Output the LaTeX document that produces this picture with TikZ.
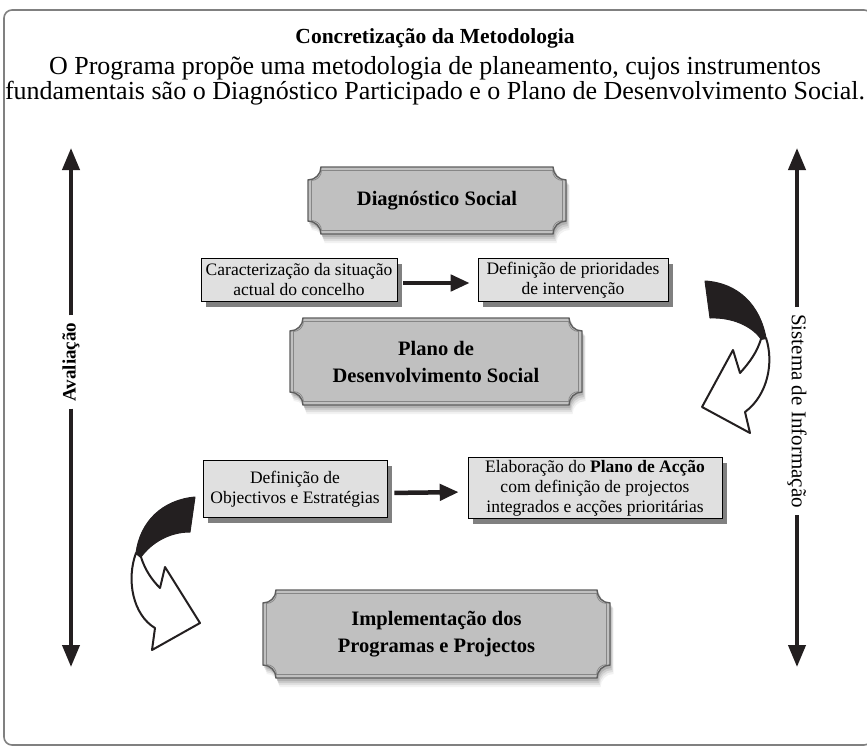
\documentclass[tikz,border=0pt]{standalone}
\usepackage{fontspec}
\setmainfont{Liberation Serif}
\usetikzlibrary{calc}
\usetikzlibrary{arrows.meta}
\usetikzlibrary{shadows}
\definecolor{plaquegray}{HTML}{C0C0C0}
\definecolor{plaqueedge}{HTML}{5E5E5E}
\definecolor{boxgray}{HTML}{E0E0E0}
\definecolor{shadegray}{HTML}{808080}
\definecolor{framegray}{HTML}{808080}
\definecolor{inkblack}{HTML}{231F20}
\tikzstyle{vline}=[inkblack,line width=4pt,-{Triangle[length=22pt,width=17pt]}]
\tikzstyle{flowarrow}=[inkblack,line width=4.5pt,-{Triangle[length=19pt,width=16pt]}]
\tikzstyle{stepbox}=[draw=black,line width=0.6pt,fill=boxgray,align=center,inner sep=2pt,font=\fontsize{17.5}{20}\selectfont,drop shadow={shadow xshift=5pt,shadow yshift=-5pt,fill=shadegray,opacity=1}]
\tikzstyle{plaquetext}=[align=center,font=\fontsize{20.5}{27}\selectfont\bfseries]
\tikzstyle{twistblack}=[fill=inkblack,draw=inkblack,line width=1pt,line join=round]
\tikzstyle{twistwhite}=[fill=white,draw=inkblack,line width=2pt,line join=round]
\newcommand{\plaquepath}[6][]{% Syntax: [options] {x1}{top}{x2}{bottom}{corner radius}
  \path[#1] ({#2+#6},{#3}) -- ({#4-#6},{#3}) arc (180:270:#6) -- ({#4},{#5+#6}) arc (90:180:#6)
    -- ({#2+#6},{#5}) arc (0:90:#6) -- ({#2},{#3-#6}) arc (270:360:#6) -- cycle;
}
\newcommand{\drawplaque}[6]{% Syntax: {name}{x1}{y1}{x2}{y2}{text}, y counted downwards
  \pgfmathsetmacro{\xa}{#2}
  \pgfmathsetmacro{\ya}{-#3}
  \pgfmathsetmacro{\xb}{#4}
  \pgfmathsetmacro{\yb}{-#5}
  \foreach \s/\o in {9/0.05,7/0.07,5/0.09,3/0.12}{
    \plaquepath[fill=black,opacity=\o]{\xa+0.4*\s}{\ya-0.6*\s}{\xb+0.4*\s}{\yb-\s}{13}
  }
  \plaquepath[fill=plaquegray,draw=plaqueedge,line width=1.4pt]{\xa}{\ya}{\xb}{\yb}{13}
  \plaquepath[draw=plaqueedge!75,line width=0.7pt]{\xa+3.5}{\ya-3.5}{\xb-3.5}{\yb+3.5}{10}
  \node[plaquetext] (#1) at ({(\xa+\xb)/2},{(\ya+\yb)/2}) {#6};
}

\begin{document}
\begin{tikzpicture}[x=1pt,y=1pt]
  \useasboundingbox (0,0) rectangle (867,-747);
  \fill[white] (0,0) rectangle (867,-747);
  \draw[framegray,line width=1.6pt,rounded corners=8pt] (4,-10) rectangle (872,-745);
  % heading
  \node[font=\fontsize{21.5}{24}\selectfont\bfseries] (title) at (435,-38) {Concretização da Metodologia};
  \node[font=\fontsize{26}{25}\selectfont,align=center] (intro) at (435,-80.5)
    {O Programa propõe uma metodologia de planeamento, cujos instrumentos\\
     fundamentais são o Diagnóstico Participado e o Plano de Desenvolvimento Social.};
  % side arrows
  \coordinate (avaltop) at (71,-148);
  \coordinate (avalbot) at (71,-667);
  \node[rotate=90,font=\fontsize{19}{20}\selectfont\bfseries,inner sep=7pt] (aval) at (71,-362) {Avaliação};
  \draw[vline] (aval) -- (avaltop);
  \draw[vline] (aval) -- (avalbot);
  \coordinate (infotop) at (797,-148);
  \coordinate (infobot) at (797,-667);
  \node[rotate=-90,font=\fontsize{21}{22}\selectfont,inner sep=7pt] (info) at (797,-411) {Sistema de Informação};
  \draw[vline] (info) -- (infotop);
  \draw[vline] (info) -- (infobot);
  % plaques
  \drawplaque{diag}{308}{167}{566}{234}{Diagnóstico Social}
  \drawplaque{plano}{290}{318}{582}{405}{Plano de\\Desenvolvimento Social}
  \drawplaque{impl}{263}{590}{610}{678}{Implementação dos\\Programas e Projectos}
  % steps
  \node[stepbox,minimum width=196pt,minimum height=43pt] (carac) at (299,-280)
    {Caracterização da situação\\actual do concelho};
  \node[stepbox,minimum width=190pt,minimum height=43pt] (prior) at (573,-280)
    {Definição de prioridades\\de intervenção};
  \node[stepbox,minimum width=184pt,minimum height=57pt] (object) at (295,-489)
    {Definição de\\Objectivos e Estratégias};
  \node[stepbox,minimum width=254pt,minimum height=61pt] (accao) at (595,-488)
    {Elaboração do \textbf{Plano de Acção}\\com definição de projectos\\integrados e acções prioritárias};
  \draw[flowarrow,shorten <=6pt,shorten >=8pt] ($(carac.east)+(0,-3)$) -- ($(prior.west)+(0,-3)$);
  \draw[flowarrow,shorten <=7pt,shorten >=9pt] ($(object.east)+(0,-4)$) -- ($(accao.west)+(0,-4)$);
  % twisted arrows
  \fill[twistblack] (705,-281) .. controls (738,-283) and (760,-305) .. (766,-338) -- (761,-339)
    .. controls (752,-326) and (732,-317) .. (710,-318) -- cycle;
  \filldraw[twistwhite] (766,-338) .. controls (774,-362) and (768,-395) .. (745,-412) -- (750,-433)
    -- (702,-407) -- (733,-350) -- (740,-373) .. controls (750,-362) and (757,-352) .. (761,-339) -- cycle;
  \fill[twistblack] (195,-497) .. controls (162,-500) and (140,-522) .. (136,-553) -- (141,-557)
    .. controls (152,-542) and (170,-532) .. (190,-532) -- cycle;
  \filldraw[twistwhite] (136,-553) .. controls (126,-580) and (133,-615) .. (155,-628) -- (152,-650)
    -- (200,-623) -- (165,-567) -- (160,-588) .. controls (152,-580) and (145,-570) .. (141,-557) -- cycle;
\end{tikzpicture}
\end{document}
